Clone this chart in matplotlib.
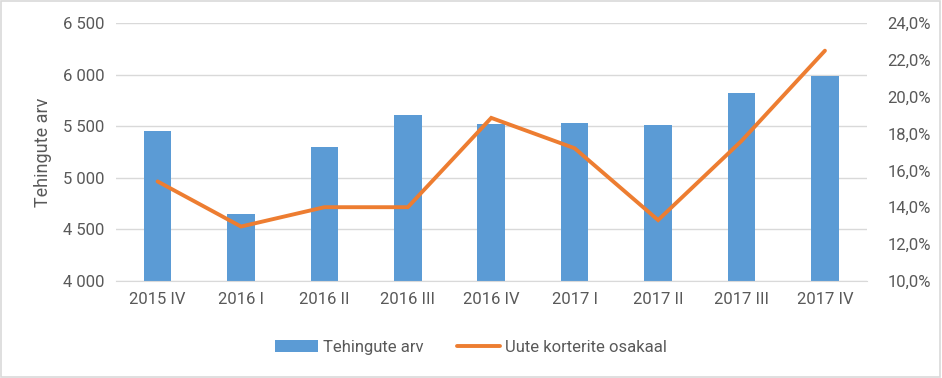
#-------------------------------------------------------------------------------
import matplotlib
matplotlib.use('Agg')
import matplotlib.pyplot as plt
from matplotlib.ticker import FuncFormatter, MultipleLocator
from matplotlib.patches import Rectangle
#-------------------------------------------------------------------------------
quarters  = ['2015 IV', '2016 I', '2016 II', '2016 III', '2016 IV',
             '2017 I', '2017 II', '2017 III', '2017 IV']
tehingud  = [5450, 4650, 5300, 5610, 5520, 5530, 5515, 5825, 5990]
osakaal   = [15.4, 12.95, 14.0, 14.0, 18.85, 17.2, 13.3, 17.6, 22.5]
#-------------------------------------------------------------------------------
plt.rcParams['font.family'] = ['Roboto', 'DejaVu Sans']
txt_col  = '#595959'
bar_col  = '#5B9BD5'
line_col = '#ED7D31'
#-------------------------------------------------------------------------------
fig = plt.figure(figsize=(9.42, 3.78), dpi=100)
ax  = fig.add_axes([0.123, 0.257, 0.797, 0.682])
ax2 = ax.twinx()

x = list(range(len(quarters)))
b = ax.bar(x, tehingud, width=0.33, color=bar_col, zorder=2, label='Tehingute arv')
l, = ax2.plot(x, osakaal, color=line_col, linewidth=2.8, solid_capstyle='round',
              solid_joinstyle='miter', label='Uute korterite osakaal')

ax.set_xlim(-0.5, len(quarters) - 0.5)
ax.set_ylim(4000, 6500)
ax2.set_ylim(10, 24)
ax.yaxis.set_major_locator(MultipleLocator(500))
ax2.yaxis.set_major_locator(MultipleLocator(2))
ax.yaxis.set_major_formatter(FuncFormatter(lambda v, p: '{:,.0f}'.format(v).replace(',', ' ')))
ax2.yaxis.set_major_formatter(FuncFormatter(lambda v, p: '{:.1f}%'.format(v).replace('.', ',')))

ax.grid(axis='y', color='#D9D9D9', linewidth=1, zorder=0)
ax.set_axisbelow(True)
for a in (ax, ax2):
    for s in a.spines.values():
        s.set_visible(False)
    a.tick_params(length=0, labelsize=12, colors=txt_col, pad=8)
ax2.tick_params(pad=15)
ax.spines['bottom'].set_visible(True)
ax.spines['bottom'].set_color('#D9D9D9')

ax.set_xticks(x)
ax.set_xticklabels(quarters)
ax.set_ylabel('Tehingute arv', fontsize=13, color=txt_col, labelpad=8)

fig.legend([b, l], ['Tehingute arv', 'Uute korterite osakaal'], loc='center',
           bbox_to_anchor=(0.5, 0.082), ncol=2, frameon=False, fontsize=12,
           labelcolor=txt_col, handlelength=2.6, handletextpad=0.3, columnspacing=2.0)

fig.patches.append(Rectangle((0.001, 0.002), 0.997, 0.995, transform=fig.transFigure,
                             fill=False, edgecolor='#D9D9D9', linewidth=1.2))
#-------------------------------------------------------------------------------
plt.savefig('out.png', dpi=100)
#-------------------------------------------------------------------------------
